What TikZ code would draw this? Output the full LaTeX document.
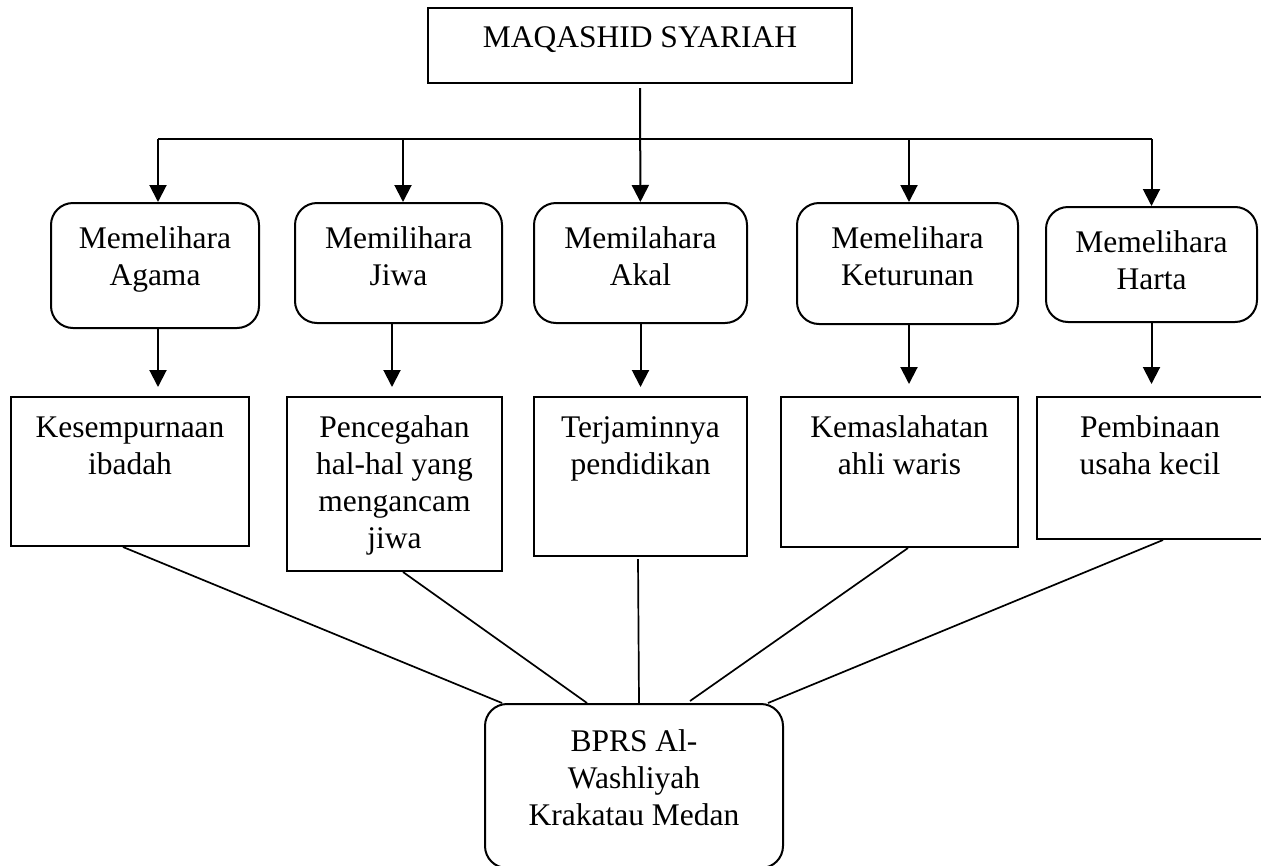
\documentclass[tikz,border=0pt]{standalone}
\usepackage{fontspec}
\setmainfont{Liberation Serif}
\usetikzlibrary{arrows.meta}
% top aligned text in a box of fixed size: width, height, first baseline, text
\newcommand{\boxlines}[4]{\parbox[c][#2][t]{#1}{\centering\rule{0pt}{#3}#4\par}}
\tikzset{
  base/.style={draw, line width=2pt, inner sep=0pt, font=\fontsize{31.5}{37}\selectfont},
  rbox/.style={base, rounded corners=22pt},
  sbox/.style={base},
  arr/.style={-{Triangle[width=17pt,length=17pt]}, line width=2pt},
  link/.style={line width=1.7pt}
}
\begin{document}
\begin{tikzpicture}[x=1pt,y=-1pt]
      \useasboundingbox (0,0) rectangle (1261,865);
      \node[sbox] (maqashid) at (640,45.5) {\boxlines{424pt}{75pt}{39pt}{MAQASHID SYARIAH}};

      \node[rbox] (agama) at (155,265.5) {\boxlines{208pt}{125pt}{45pt}{Memelihara\\Agama}};
      \node[rbox] (jiwa) at (398.5,263) {\boxlines{207pt}{120pt}{45pt}{Memilihara\\Jiwa}};
      \node[rbox] (akal) at (640.5,263) {\boxlines{213pt}{120pt}{45pt}{Memilahara\\Akal}};
      \node[rbox] (keturunan) at (907.5,263.5) {\boxlines{221pt}{121pt}{45pt}{Memelihara\\Keturunan}};
      \node[rbox] (harta) at (1151.5,264.5) {\boxlines{211pt}{115pt}{45pt}{Memelihara\\Harta}};

      \node[sbox] (ibadah) at (130,471.5) {\boxlines{238pt}{149pt}{40pt}{Kesempurnaan\\ibadah}};
      \node[sbox] (pencegahan) at (394.5,484) {\boxlines{215pt}{174pt}{40pt}{Pencegahan\\hal-hal yang\\mengancam\\jiwa}};
      \node[sbox] (pendidikan) at (640.5,476.5) {\boxlines{213pt}{159pt}{40pt}{Terjaminnya\\pendidikan}};
      \node[sbox] (ahliwaris) at (899.5,472) {\boxlines{237pt}{150pt}{40pt}{Kemaslahatan\\ahli waris}};
      \node[sbox] (usaha) at (1150,468) {\boxlines{226pt}{142pt}{40pt}{Pembinaan\\usaha kecil}};

      \node[rbox] (bprs) at (634,786) {\boxlines{298pt}{164pt}{47pt}{BPRS Al-\\Washliyah\\Krakatau Medan}};

      % from the top box to the five boxes
      \coordinate (bus) at (0,139);
      \draw[line width=2pt] ([xshift=3pt]agama.north |- bus) -- (harta.north |- bus);
      \draw[arr, shorten <=4pt] (maqashid) -- (akal);
      \draw[arr] ([xshift=3pt]agama.north |- bus) -- ([xshift=3pt]agama.north);
      \draw[arr] ([xshift=4.5pt]jiwa.north |- bus) -- ([xshift=4.5pt]jiwa.north);
      \draw[arr] ([xshift=1.5pt]keturunan.north |- bus) -- ([xshift=1.5pt]keturunan.north);
      \draw[arr] (harta.north |- bus) -- (harta.north);

      % down to the second row
      \draw[arr, shorten >=9pt] ([xshift=3pt]agama.south) -- ([xshift=3pt]agama.south |- ibadah.north);
      \draw[arr, shorten >=9pt] ([xshift=-6.5pt]jiwa.south) -- ([xshift=-6.5pt]jiwa.south |- pencegahan.north);
      \draw[arr, shorten >=9pt] (akal.south) -- (akal.south |- pendidikan.north);
      \draw[arr, shorten >=12pt] ([xshift=1.5pt]keturunan.south) -- ([xshift=1.5pt]keturunan.south |- ahliwaris.north);
      \draw[arr, shorten >=12pt] (harta.south) -- (harta.south |- usaha.north);

      % lines to BPRS
      \draw[link] ([xshift=-7pt]ibadah.south) -- ([xshift=-132pt]bprs.north);
      \draw[link] ([xshift=8.5pt]pencegahan.south) -- ([xshift=-47pt]bprs.north);
      \draw[link] ([xshift=-2.5pt,yshift=-2pt]pendidikan.south) -- ([xshift=5pt]bprs.north);
      \draw[link] ([xshift=8.5pt]ahliwaris.south) -- ([xshift=56pt,yshift=2pt]bprs.north);
      \draw[link] ([xshift=13pt]usaha.south) -- ([xshift=134pt]bprs.north);
\end{tikzpicture}
\end{document}
